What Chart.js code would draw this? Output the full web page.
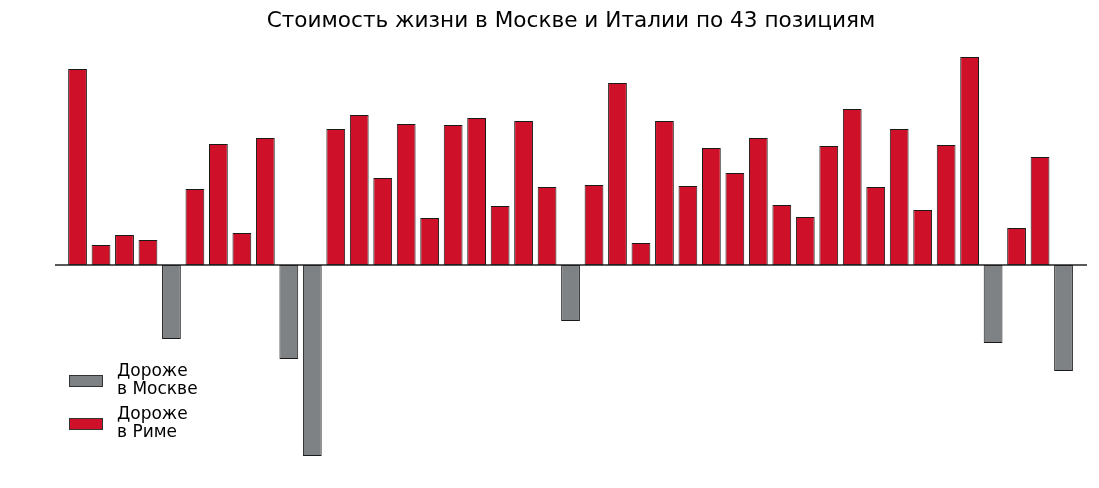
<!DOCTYPE html>
<html>
<head>
<meta charset="utf-8">
<script src="https://cdn.jsdelivr.net/npm/chart.js@4"></script>
<style>
  html, body { margin: 0; padding: 0; background: #fff; }
</style>
</head>
<body>
<canvas id="grafico" width="1099" height="488"></canvas>
<script>
// номера позиций (43 шт.)
var pozicii = [1, 2, 3, 4, 5, 6, 7, 8, 9, 10, 11, 12, 13, 14, 15, 16, 17, 18, 19, 20, 21,
  22, 23, 24, 25, 26, 27, 28, 29, 30, 31, 32, 33, 34, 35, 36, 37, 38, 39, 40, 41, 42, 43];
// разница цен: >0 дороже в Риме, <0 дороже в Москве
var raznica = [196, 20, 30, 25, -74, 76, 121, 32, 127, -94, -191, 136, 150, 87, 141, 47,
  140, 147, 59, 144, 78, -56, 80, 182, 22, 144, 79, 117, 92, 127, 60, 48, 119, 156, 78,
  136, 55, 120, 208, -78, 37, 108, -106];
var legendaTexty = [["Дороже", "в Москве"], ["Дороже", "в Риме"]];
var zagolovok = "Стоимость жизни в Москве и Италии по 43 позициям";

var COR_MOSKVA = "#7f8285";
var COR_RIM = "#ce1129";

var pontos = [];
for (var i = 0; i < pozicii.length; i++) {
  pontos.push({ x: pozicii[i], y: raznica[i] });
}

var desenhoExtra = {
  id: 'desenhoExtra',
  afterDatasetsDraw: function (chart) {
    var ctx = chart.ctx;
    var area = chart.chartArea;
    var y0 = chart.scales.y.getPixelForValue(0);
    ctx.save();
    // линия нуля
    ctx.strokeStyle = "#222";
    ctx.lineWidth = 1.3;
    ctx.beginPath();
    ctx.moveTo(area.left, y0);
    ctx.lineTo(area.right, y0);
    ctx.stroke();

    // заголовок
    ctx.fillStyle = "#000";
    ctx.font = "21.6px 'DejaVu Sans'";
    ctx.textAlign = "center";
    ctx.textBaseline = "middle";
    ctx.fillText(zagolovok, (area.left + area.right) / 2, 21);

    // легенда
    var cores = [COR_MOSKVA, COR_RIM];
    var topos = [375, 418];
    ctx.font = "17px 'DejaVu Sans'";
    ctx.textAlign = "left";
    for (var k = 0; k < cores.length; k++) {
      ctx.fillStyle = cores[k];
      ctx.fillRect(69, topos[k], 33, 11);
      ctx.strokeStyle = "#333";
      ctx.lineWidth = 1;
      ctx.strokeRect(69.5, topos[k] + 0.5, 33, 11);
      ctx.fillStyle = "#000";
      ctx.fillText(legendaTexty[k][0], 117, topos[k] - 3);
      ctx.fillText(legendaTexty[k][1], 117, topos[k] + 15);
    }
    ctx.restore();
  }
};

var ctx = document.getElementById('grafico').getContext('2d');
var meuGrafico = new Chart(ctx, {
  type: 'bar',
  data: {
    datasets: [{
      data: pontos,
      backgroundColor: function (c) {
        return c.raw && c.raw.y < 0 ? COR_MOSKVA : COR_RIM;
      },
      borderColor: "#1a1a1a",
      borderWidth: 1,
      borderSkipped: false,
      barPercentage: 0.8,
      categoryPercentage: 1.0
    }]
  },
  options: {
    responsive: false,
    animation: false,
    layout: { padding: { left: 55, right: 12, top: 37, bottom: 32 } },
    scales: {
      x: { type: 'linear', min: 0.04, max: 44, offset: false, display: false },
      y: { min: -191, max: 228, display: false }
    },
    plugins: {
      legend: { display: false },
      tooltip: { enabled: false }
    }
  },
  plugins: [desenhoExtra]
});
</script>
</body>
</html>
